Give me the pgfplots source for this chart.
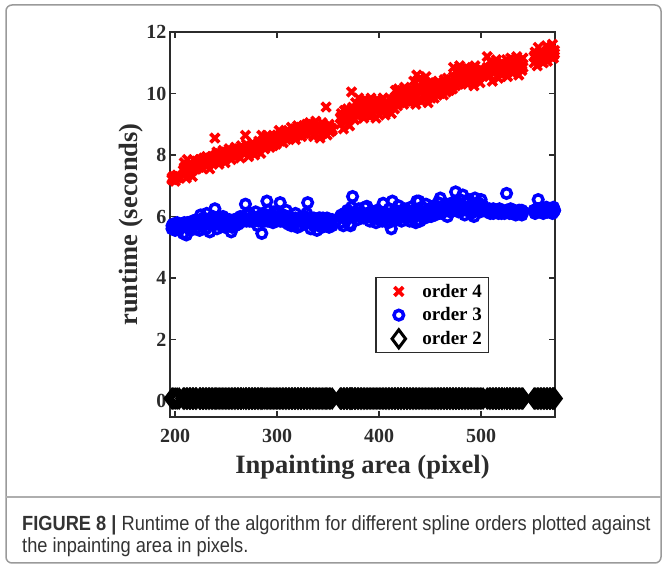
\documentclass[border=0pt]{standalone}
\usepackage{fontspec}
\setmainfont{Liberation Serif}
\newfontfamily\capfont[FakeStretch=0.89]{Liberation Sans}
\usepackage{pgfplots}
\pgfplotsset{compat=1.18}
\usepackage{pgfplotstable}
\definecolor{axgray}{HTML}{2B2B2B}
\definecolor{framegray}{HTML}{9A9A9A}
\definecolor{captext}{HTML}{333333}

\pgfplotstableread{
x r r2 b b2 k
197 7.20 7.25 5.60 5.70 0.08
198 7.30 7.20 5.65 5.75 0.08
200 7.15 7.30 5.55 5.70 0.08
202 7.35 7.25 5.70 5.80 0.08
204 7.25 7.30 5.60 5.75 0.08
208 7.35 7.50 5.45 5.70 0.08
209 7.75 7.60 5.80 5.75 0.08
211 7.25 7.50 5.40 5.65 0.08
212 7.85 7.60 5.65 5.80 0.08
214 7.50 7.55 5.75 5.70 0.08
215 7.70 7.60 5.55 5.75 0.08
217 7.30 7.50 5.85 5.70 0.08
218 7.85 7.60 5.70 5.80 0.08
220 7.55 7.55 5.60 5.75 0.08
221 7.80 7.65 5.90 5.80 0.08
224 7.60 7.75 5.55 5.75 0.08
225 7.85 7.70 6.05 5.85 0.08
227 7.55 7.75 5.70 5.80 0.08
228 7.90 7.80 5.95 5.75 0.08
230 7.65 7.75 5.60 5.85 0.08
231 7.95 7.80 6.10 5.80 0.08
233 7.70 7.75 5.80 5.75 0.08
234 7.55 7.80 5.50 5.85 0.08
236 7.95 7.75 5.90 5.80 0.08
237 7.75 7.85 6.00 5.75 0.08
239 8.55 7.95 6.25 5.85 0.08
240 7.80 8.00 5.75 5.90 0.08
241 8.10 7.95 5.60 5.80 0.08
243 7.70 8.00 5.95 5.85 0.08
244 8.05 7.90 5.85 5.90 0.08
246 7.85 8.00 5.70 5.80 0.08
247 8.15 7.95 6.00 5.85 0.08
249 7.75 8.00 5.65 5.90 0.08
250 8.10 8.05 5.90 5.80 0.08
252 7.95 8.00 5.75 5.85 0.08
253 8.20 8.05 5.80 5.90 0.08
255 7.85 8.00 5.50 5.80 0.08
256 8.15 8.05 5.65 5.85 0.08
258 7.95 8.10 5.80 5.90 0.08
259 8.25 8.05 5.70 5.85 0.08
261 8.00 8.10 5.90 5.80 0.08
262 8.20 8.05 5.75 5.90 0.08
264 7.90 8.10 6.00 5.85 0.08
265 8.30 8.15 5.85 5.90 0.08
267 8.05 8.15 5.95 5.85 0.08
269 8.64 8.20 6.40 5.90 0.08
270 8.35 8.15 6.05 5.85 0.08
272 7.95 8.20 5.90 5.90 0.08
273 8.25 8.15 6.10 5.85 0.08
275 8.10 8.20 5.85 5.95 0.08
276 8.40 8.25 6.00 5.90 0.08
278 8.00 8.20 5.95 5.85 0.08
279 8.30 8.25 6.15 5.95 0.08
281 8.15 8.35 5.70 5.90 0.08
282 8.45 8.30 6.00 5.85 0.08
284 8.05 8.35 5.95 5.95 0.08
285 8.64 8.30 5.45 5.90 0.08
286 8.35 8.40 6.10 5.85 0.08
288 8.20 8.35 5.85 5.95 0.08
290 8.64 8.40 6.50 5.90 0.08
291 8.50 8.35 6.20 5.85 0.08
293 8.25 8.45 5.90 5.95 0.08
294 8.55 8.40 6.05 5.90 0.08
296 8.30 8.45 5.80 5.95 0.08
297 8.60 8.45 6.15 5.90 0.08
299 8.35 8.50 5.95 5.85 0.08
300 8.65 8.50 6.10 5.95 0.08
302 8.80 8.60 6.00 5.90 0.08
303 8.45 8.65 6.45 5.85 0.08
305 8.70 8.60 5.85 5.95 0.08
306 8.40 8.65 6.05 5.90 0.08
308 8.75 8.60 5.95 5.85 0.08
309 8.50 8.70 6.20 5.95 0.08
311 8.80 8.65 5.75 5.90 0.08
312 8.55 8.70 6.00 5.85 0.08
314 8.90 8.70 5.70 5.95 0.08
315 8.60 8.75 5.90 5.90 0.08
317 8.85 8.70 5.80 5.85 0.08
318 8.50 8.75 6.10 5.95 0.08
320 8.95 8.75 5.65 5.90 0.08
321 8.65 8.80 5.85 5.85 0.08
323 8.90 8.75 5.70 5.95 0.08
324 8.60 8.80 5.95 5.90 0.08
326 8.95 8.80 5.80 5.85 0.08
327 8.70 8.85 6.00 5.95 0.08
329 9.00 8.85 6.10 5.90 0.08
330 8.65 8.90 6.45 5.85 0.08
332 9.05 8.85 5.80 5.95 0.08
333 8.75 8.90 5.60 5.90 0.08
335 8.95 8.80 5.90 5.85 0.08
336 8.60 8.85 5.70 5.95 0.08
338 9.10 8.90 5.85 5.90 0.08
339 8.80 8.85 5.55 5.85 0.08
341 8.95 8.90 5.75 5.95 0.08
342 8.55 8.80 5.95 5.90 0.08
344 9.05 8.85 5.65 5.85 0.08
345 8.70 8.90 5.85 5.95 0.08
347 8.90 8.80 5.70 5.90 0.08
348 9.56 8.85 5.90 5.85 0.08
349 8.65 8.90 5.75 5.95 0.08
351 9.00 8.80 5.65 5.90 0.08
352 8.75 8.90 5.80 5.85 0.08
354 8.85 8.80 5.70 5.90 0.08
362 9.00 9.20 5.80 6.00 0.08
363 9.35 9.25 6.00 6.05 0.08
365 8.85 9.20 5.70 6.00 0.08
366 9.45 9.30 6.10 6.05 0.08
368 9.10 9.25 5.90 6.10 0.08
369 9.50 9.30 6.20 6.00 0.08
371 8.95 9.20 5.75 6.05 0.08
372 9.30 9.25 5.70 6.10 0.08
373 10.05 9.30 6.30 6.00 0.08
374 9.55 9.35 6.65 6.05 0.08
376 9.15 9.40 6.00 6.10 0.08
377 9.70 9.45 6.15 6.00 0.08
379 9.25 9.50 5.90 6.05 0.08
380 9.85 9.55 6.25 6.10 0.08
382 9.40 9.50 6.05 6.00 0.08
383 9.75 9.55 6.10 6.05 0.08
385 9.20 9.50 5.95 6.10 0.08
386 9.80 9.55 6.30 6.00 0.08
388 9.30 9.60 6.33 6.05 0.08
389 9.70 9.50 6.00 6.10 0.08
391 9.25 9.55 5.85 6.00 0.08
392 9.85 9.60 6.15 6.05 0.08
394 9.35 9.55 5.95 6.10 0.08
395 9.65 9.50 6.10 6.00 0.08
397 9.20 9.55 5.80 6.05 0.08
398 9.80 9.60 6.20 6.10 0.08
400 9.30 9.55 5.90 6.00 0.08
401 9.75 9.60 6.05 6.05 0.08
403 9.40 9.55 5.85 6.10 0.08
404 9.85 9.65 6.43 6.00 0.08
406 9.30 9.60 6.10 6.05 0.08
407 9.70 9.55 5.95 6.10 0.08
409 9.45 9.65 5.80 6.00 0.08
410 9.85 9.60 6.25 6.05 0.08
412 9.35 9.65 5.60 6.10 0.08
413 9.80 9.60 6.50 6.00 0.08
415 9.50 9.70 6.05 6.05 0.08
416 10.10 9.85 6.20 6.10 0.08
418 9.60 9.90 5.90 6.05 0.08
419 10.15 9.85 6.35 6.15 0.08
421 9.70 9.90 6.00 6.10 0.08
422 10.05 9.85 5.85 6.05 0.08
424 9.65 9.95 6.10 6.15 0.08
425 10.20 9.90 6.25 6.10 0.08
427 9.75 9.95 5.95 6.05 0.08
428 10.10 9.90 6.15 6.15 0.08
430 9.70 9.95 5.85 6.10 0.08
431 10.15 9.90 6.30 6.05 0.08
433 9.80 9.95 5.95 6.15 0.08
434 10.40 10.05 6.20 6.10 0.08
436 9.65 10.10 5.80 6.05 0.08
437 10.60 10.20 6.50 6.15 0.08
439 9.80 10.10 6.50 6.10 0.08
440 10.50 10.15 5.85 6.05 0.08
442 9.75 10.05 6.30 6.15 0.08
443 10.30 10.10 6.05 6.10 0.08
445 9.90 10.15 5.95 6.05 0.08
446 10.55 10.20 6.40 6.15 0.08
448 9.70 10.05 6.10 6.10 0.08
449 10.35 10.10 6.25 6.05 0.08
451 9.85 10.15 6.00 6.15 0.08
452 10.35 10.15 6.15 6.20 0.08
454 9.85 10.20 6.35 6.25 0.08
455 10.25 10.15 6.05 6.20 0.08
457 9.95 10.20 6.25 6.30 0.08
458 10.40 10.25 6.45 6.25 0.08
460 10.00 10.20 6.60 6.20 0.08
461 10.30 10.15 6.10 6.30 0.08
463 9.95 10.20 6.30 6.25 0.08
464 10.45 10.25 6.20 6.20 0.08
466 10.05 10.20 6.40 6.30 0.08
467 10.50 10.30 6.00 6.25 0.08
469 10.10 10.25 6.35 6.20 0.08
470 10.40 10.30 6.15 6.30 0.08
472 10.15 10.25 6.45 6.25 0.08
473 10.85 10.55 6.25 6.20 0.08
475 10.25 10.50 6.80 6.30 0.08
476 10.70 10.55 6.40 6.25 0.08
478 10.30 10.60 6.15 6.20 0.08
479 10.90 10.55 6.55 6.30 0.08
481 10.35 10.50 6.30 6.25 0.08
482 10.75 10.60 6.70 6.20 0.08
484 10.40 10.55 6.05 6.30 0.08
485 10.85 10.60 6.45 6.25 0.08
487 10.30 10.55 6.25 6.20 0.08
488 10.80 10.50 6.55 6.30 0.08
490 10.45 10.60 6.10 6.25 0.08
491 10.65 10.55 6.40 6.20 0.08
493 10.25 10.60 6.00 6.30 0.08
494 10.90 10.55 6.60 6.25 0.08
496 10.50 10.65 6.30 6.20 0.08
497 10.75 10.60 6.45 6.30 0.08
499 10.35 10.55 6.15 6.25 0.08
500 10.80 10.60 6.55 6.20 0.08
502 10.55 10.65 6.35 6.30 0.08
506 11.20 10.85 6.20 6.15 0.08
508 10.60 10.80 6.25 6.15 0.08
509 11.05 10.85 6.10 6.20 0.08
511 10.40 10.75 6.20 6.15 0.08
512 10.90 10.80 6.25 6.10 0.08
514 10.70 10.85 6.15 6.20 0.08
515 11.10 10.80 6.20 6.15 0.08
517 10.50 10.75 6.10 6.20 0.08
518 10.95 10.85 6.25 6.15 0.08
520 10.60 10.80 6.20 6.10 0.08
521 11.00 10.85 6.15 6.20 0.08
523 10.75 10.90 6.10 6.15 0.08
525 11.10 10.80 6.75 6.20 0.08
526 10.55 10.85 6.20 6.15 0.08
528 10.90 10.80 6.15 6.10 0.08
529 11.15 10.85 6.25 6.20 0.08
531 10.65 10.90 6.10 6.15 0.08
532 11.05 10.85 6.20 6.20 0.08
534 10.80 10.90 6.05 6.15 0.08
535 11.20 10.85 6.15 6.10 0.08
537 10.60 10.90 6.10 6.20 0.08
538 11.00 10.85 6.20 6.15 0.08
540 10.75 10.90 6.05 6.20 0.08
541 11.15 10.85 6.15 6.15 0.08
552 11.00 11.20 6.20 6.20 0.08
553 11.35 11.25 6.10 6.15 0.08
555 10.90 11.20 6.25 6.20 0.08
556 11.50 11.25 6.55 6.25 0.08
558 11.10 11.30 6.15 6.20 0.08
559 11.40 11.25 6.25 6.15 0.08
561 11.00 11.30 6.10 6.20 0.08
562 11.30 11.25 6.20 6.25 0.08
564 11.55 11.30 6.30 6.20 0.08
565 11.05 11.25 6.15 6.15 0.08
567 11.45 11.30 6.20 6.20 0.08
568 11.20 11.25 6.25 6.25 0.08
570 11.60 11.30 6.10 6.20 0.08
571 11.15 11.25 6.30 6.15 0.08
572 11.40 11.30 6.20 6.20 0.08
}\data

\pgfplotsset{
  myleg/.style={legend image code/.code={%
    \path[draw=none,fill=none] (0pt,-6pt) rectangle (40pt,6pt);
    \draw[##1,only marks] plot coordinates {(21pt,0pt)};}},
  redst/.style={only marks, red, mark=x, mark size=6.2pt, mark options={line width=3.6pt}},
  bluest/.style={only marks, blue, mark=o, mark size=4.8pt, mark options={line width=3.5pt}},
  blackst/.style={only marks, black, mark=diamond, mark size=9pt, mark options={line width=3pt}},
}

\begin{document}
\begin{tikzpicture}
\useasboundingbox (0,0) rectangle (666pt,569pt);
\draw[framegray, line width=1.5pt, rounded corners=6pt] (6pt,6pt) rectangle (661pt,564pt);
\draw[framegray!80, line width=1.5pt] (6pt,72pt) -- (661pt,72pt);
\node[anchor=base west, inner sep=0pt, text=captext, font=\capfont\fontsize{20.5}{22}\selectfont] at (22pt,38pt)
  {\textbf{FIGURE 8 |} Runtime of the algorithm for different spline orders plotted against};
\node[anchor=base west, inner sep=0pt, text=captext, font=\capfont\fontsize{20.5}{22}\selectfont] at (22pt,16pt)
  {the inpainting area in pixels.};
\begin{axis}[
  at={(170pt,152pt)}, anchor=south west,
  width=385pt, height=385pt, scale only axis,
  xmin=195, xmax=572.5, ymin=-0.52, ymax=12,
  xtick={200,300,400,500}, ytick={0,2,4,6,8,10,12},
  tick pos=both, tick align=inside, major tick length=6pt,
  minor tick num=0,
  axis line style={axgray, line width=1.3pt},
  every tick/.style={axgray, line width=1.3pt},
  tick label style={font=\bfseries\fontsize{20}{20}\selectfont, text=axgray},
  /pgf/number format/assume math mode=true,
  xticklabel style={yshift=-9pt},
  xlabel={Inpainting area (pixel)}, ylabel={runtime (seconds)},
  label style={font=\bfseries\fontsize{26.5}{26.5}\selectfont, text=axgray},
  xlabel style={at={(axis description cs:0.5,-0.1455)}, anchor=base},
  ylabel style={at={(axis description cs:-0.0857,0.5)}, anchor=base},
  clip=false,
  legend style={at={(0.829,0.364)}, anchor=north east, draw=axgray, line width=1.5pt,
    font=\bfseries\fontsize{19}{19}\selectfont, inner sep=2pt,
    nodes={inner sep=4.5pt}},
  legend cell align=left,
]
\addplot[redst, myleg] table[x=x, y=r] {\data};
\addlegendentry{order 4}
\addplot[bluest, myleg] table[x=x, y=b] {\data};
\addlegendentry{order 3}
\addplot[blackst, myleg] table[x=x, y=k] {\data};
\addlegendentry{order 2}
\addplot[redst, forget plot] table[x=x, y=r2] {\data};
\addplot[bluest, forget plot] table[x=x, y=b2] {\data};
\end{axis}
\end{tikzpicture}
\end{document}
